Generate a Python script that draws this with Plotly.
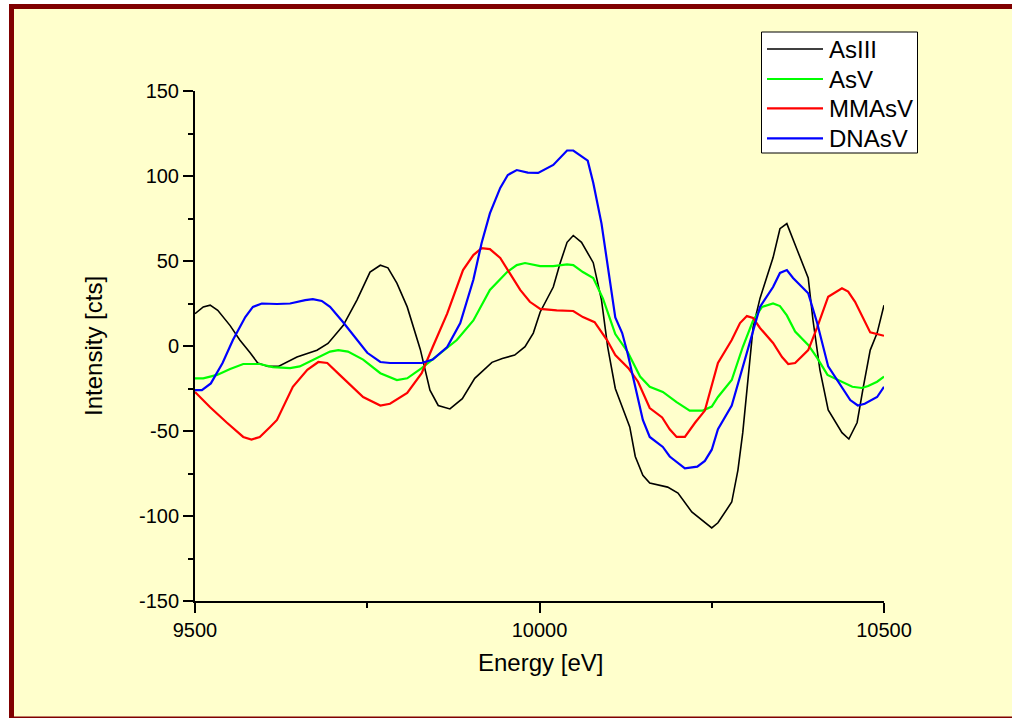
import plotly.graph_objects as go

# ---- data ----
x_as3 = [9500, 9512, 9522, 9533, 9551, 9565, 9580, 9591, 9606, 9621, 9648, 9677, 9693, 9715, 9735, 9754, 9769, 9780, 9793, 9808,
         9827, 9841, 9853, 9870, 9888, 9906, 9931, 9946, 9964, 9979, 9991, 10001, 10020, 10030, 10040, 10049, 10061, 10078, 10090, 10099,
         10110, 10131, 10139, 10150, 10160, 10186, 10201, 10221, 10250, 10259, 10279, 10288, 10295, 10303, 10310, 10320, 10339, 10349, 10359, 10374,
         10390, 10397, 10407, 10419, 10439, 10449, 10461, 10470, 10480, 10490, 10500]
y_as3 = [19, 23, 24, 21, 12, 3.5, -4, -10, -12, -12, -6.5, -2.5, 1.5, 12, 27, 43.5, 47.5, 46, 37, 23,
         -2, -26, -35, -37, -31, -19, -9.6, -7.3, -5.3, -0.4, 7.6, 20, 34.7, 48.8, 61, 65, 61, 49, 27, -0.6,
         -25, -47.6, -65, -76, -80.6, -83, -86.5, -97.6, -107, -104, -91.8, -73, -51, -20, 11, 28, 52, 69, 72, 56.5,
         40, 15, -14, -37.6, -51, -54.7, -45, -24, -2.4, 7.6, 24]

x_as5 = [9500, 9512, 9532, 9551, 9570, 9594, 9613, 9638, 9652, 9677, 9696, 9708, 9722, 9744, 9769, 9793, 9808, 9829, 9845, 9860,
         9880, 9904, 9928, 9953, 9967, 9979, 10001, 10020, 10040, 10049, 10063, 10078, 10092, 10110, 10128, 10146, 10160, 10179, 10199, 10218,
         10237, 10250, 10259, 10279, 10295, 10310, 10323, 10339, 10349, 10359, 10371, 10390, 10403, 10418, 10439, 10454, 10468, 10477, 10490, 10500]
y_as5 = [-19, -19, -17, -13.5, -10.6, -10.6, -12.4, -13, -12, -7, -3.3, -2.4, -3.3, -8, -16, -20, -19, -13, -8, -3.3,
         3.5, 15, 33, 43.5, 47.6, 48.8, 47, 47, 48, 47.6, 43.5, 40, 28, 7, -3.5, -18, -24, -27, -33, -38,
         -38, -35.6, -30, -20, -0.6, 15, 23, 25, 23.5, 18, 8.5, 0.6, -7, -17, -21, -24, -24.7, -23.5, -21, -18]

x_mma = [9500, 9522, 9546, 9570, 9582, 9594, 9609, 9619, 9642, 9663, 9679, 9692, 9710, 9744, 9769, 9783, 9808, 9829, 9845, 9866,
         9889, 9904, 9916, 9928, 9943, 9957, 9972, 9986, 10001, 10025, 10049, 10063, 10080, 10098, 10110, 10129, 10143, 10160, 10178, 10189,
         10199, 10211, 10226, 10240, 10259, 10279, 10291, 10301, 10310, 10320, 10339, 10352, 10361, 10371, 10390, 10403, 10419, 10439, 10448, 10458,
         10480, 10500]
y_mma = [-27, -36, -45, -53.5, -55, -53.5, -47.6, -43.5, -24, -14, -9.4, -10, -17, -30, -35, -34, -27.6, -16, -0.6, 19,
         44.7, 53.5, 57.6, 57, 51.8, 43, 33, 26, 21.8, 21, 20.6, 17, 14, 3.5, -5.3, -13, -21, -36.5, -42, -49,
         -53.5, -53.5, -45, -38, -10, 3.5, 13.5, 17.6, 16.5, 10.6, 1.8, -6.5, -10.6, -10, -2.4, 11, 29, 34, 32, 26,
         8, 6]

x_dna = [9500, 9510, 9523, 9540, 9555, 9573, 9584, 9597, 9619, 9638, 9660, 9671, 9684, 9696, 9715, 9735, 9750, 9769, 9783, 9808,
         9829, 9845, 9866, 9885, 9904, 9916, 9928, 9943, 9954, 9967, 9983, 9998, 10020, 10040, 10049, 10070, 10078, 10090, 10101, 10110,
         10120, 10128, 10139, 10150, 10160, 10179, 10189, 10211, 10229, 10240, 10250, 10259, 10279, 10295, 10310, 10320, 10339, 10349, 10359, 10368,
         10390, 10403, 10419, 10439, 10451, 10462, 10472, 10490, 10500]
y_dna = [-26, -26, -22, -10, 3.5, 17, 23, 25, 24.7, 25, 27, 27.6, 26.5, 23, 14, 3.5, -4, -9.4, -10, -10,
         -10, -8, -0.6, 13.5, 39, 60.6, 78, 93, 100.6, 103.5, 102, 101.8, 106.5, 115, 115, 109, 96, 72, 43, 16.8,
         7.6, -4.5, -24, -43.5, -53.5, -59.4, -65, -72, -71, -67.6, -61, -49, -35, -12.4, 9.4, 23, 34.7, 43, 44.7, 40,
         31, 13.5, -12, -24.7, -31.8, -35, -34, -30, -24]

series_names = ["AsIII", "AsV", "MMAsV", "DNAsV"]
series_colors = ["#000000", "#00FF00", "#FF0000", "#0000FF"]
series_widths = [1.6, 2.2, 2.2, 2.2]
series_x = [x_as3, x_as5, x_mma, x_dna]
series_y = [y_as3, y_as5, y_mma, y_dna]

x_tickvals = [9500, 10000, 10500]
x_ticktext = ["9500", "10000", "10500"]
y_tickvals = [-150, -100, -50, 0, 50, 100, 150]
y_ticktext = ["-150", "-100", "-50", "0", "50", "100", "150"]

FONT = "Liberation Sans, Arial, sans-serif"

fig = go.Figure()
for name, col, w, xs, ys in zip(series_names, series_colors, series_widths, series_x, series_y):
    fig.add_trace(go.Scatter(x=xs, y=ys, mode="lines", name=name,
                             line=dict(color=col, width=w), showlegend=False))

# geometry helpers (paper coords of plot area: l=195, r=884, t=91, b=601)
L, R, T, B = 195, 884, 91, 601
def px(x):
    return (x - L) / (R - L)
def py(y):
    return (B - y) / (B - T)

FRAME = "#800000"
shapes = [
    # light yellow fill of the frame
    dict(type="rect", xref="paper", yref="paper", layer="below",
         x0=px(11.5), x1=px(1012), y0=py(6.5), y1=py(718),
         fillcolor="#FFFFCC", line=dict(width=0)),
    # frame edges (right edge lies outside the page)
    dict(type="line", xref="paper", yref="paper", layer="below",
         x0=px(9), x1=px(1012), y0=py(6.5), y1=py(6.5), line=dict(color=FRAME, width=5)),
    dict(type="line", xref="paper", yref="paper", layer="below",
         x0=px(11.5), x1=px(11.5), y0=py(4), y1=py(718), line=dict(color=FRAME, width=5)),
    dict(type="line", xref="paper", yref="paper", layer="below",
         x0=px(9), x1=px(1012), y0=py(717.5), y1=py(717.5), line=dict(color=FRAME, width=2)),
    # legend box
    dict(type="rect", xref="paper", yref="paper", layer="above",
         x0=px(761.5), x1=px(917.5), y0=py(153), y1=py(32),
         fillcolor="#FFFFFF", line=dict(color="#000000", width=1)),
]
annotations = []
rows = [49, 79, 108.3, 138.3]
for name, col, w, r in zip(series_names, series_colors, series_widths, rows):
    shapes.append(dict(type="line", xref="paper", yref="paper", layer="above",
                       x0=px(767), x1=px(823), y0=py(r), y1=py(r),
                       line=dict(color=col, width=w)))
    annotations.append(dict(x=px(827), y=py(r), xref="paper", yref="paper",
                            text=name, showarrow=False, xanchor="left", yanchor="middle",
                            font=dict(family=FONT, size=24, color="#000000")))

annotations.append(dict(x=px(540), y=py(662), xref="paper", yref="paper",
                        text="Energy [eV]", showarrow=False, xanchor="center", yanchor="middle",
                        font=dict(family=FONT, size=24, color="#000000")))
annotations.append(dict(x=px(93), y=py(346), xref="paper", yref="paper",
                        text="Intensity [cts]", showarrow=False, xanchor="center", yanchor="middle",
                        textangle=-90, font=dict(family=FONT, size=24, color="#000000")))

axis_common = dict(showgrid=False, zeroline=False, showline=True, linecolor="#000000", linewidth=2,
                   ticks="outside", ticklen=10, tickwidth=2, tickcolor="#000000",
                   tickfont=dict(family=FONT, size=20, color="#000000"), mirror=False)

fig.update_layout(
    width=1012, height=718, autosize=False,
    margin=dict(l=L, r=1012 - R, t=T, b=718 - B, pad=0),
    paper_bgcolor="#FFFFFF", plot_bgcolor="rgba(0,0,0,0)",
    xaxis=dict(range=[9500, 10500], tickvals=x_tickvals, ticktext=x_ticktext,
               minor=dict(ticks="outside", ticklen=5, tickwidth=2, tickcolor="#000000", dtick=250, tick0=9500),
               **axis_common),
    yaxis=dict(range=[-150, 150], tickvals=y_tickvals, ticktext=y_ticktext,
               minor=dict(ticks="outside", ticklen=5, tickwidth=2, tickcolor="#000000", dtick=25, tick0=-150),
               **axis_common),
    shapes=shapes, annotations=annotations, showlegend=False,
)

fig.write_html("out.html")
